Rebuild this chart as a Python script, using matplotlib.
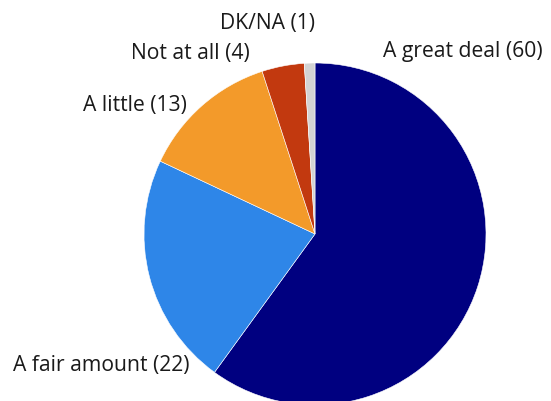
import matplotlib.pyplot as plt

labels = ["A great deal", "A fair amount", "A little", "Not at all", "DK/NA"]
values = [60, 22, 13, 4, 1]
colors = ["#000080", "#2e86e8", "#f39a2a", "#c2390f", "#d3d3d3"]

# where each label sits (pixel coords, y from bottom) and how it's anchored
label_pos = [(383, 350, "left"), (13, 36, "left"), (187, 297, "right"),
             (250, 349, "right"), (267, 379, "center")]

plt.rcParams['font.family'] = ['Open Sans', 'DejaVu Sans']

fig = plt.figure(figsize=(5.51, 4.02), dpi=100)
ax = fig.add_axes([0, 0, 1, 1])

ax.pie(values, colors=colors, startangle=90, counterclock=False,
       center=(315, 167), radius=171,
       wedgeprops=dict(edgecolor="white", linewidth=0.4))

for lab, val, (x, y, ha) in zip(labels, values, label_pos):
    ax.text(x, y, f"{lab} ({val})", ha=ha, va="center",
            fontsize=15.2, color="#1a1a1a")

ax.set_xlim(0, 551)
ax.set_ylim(0, 402)
ax.set_aspect("equal")
ax.axis("off")

fig.savefig("out.png", dpi=100)
